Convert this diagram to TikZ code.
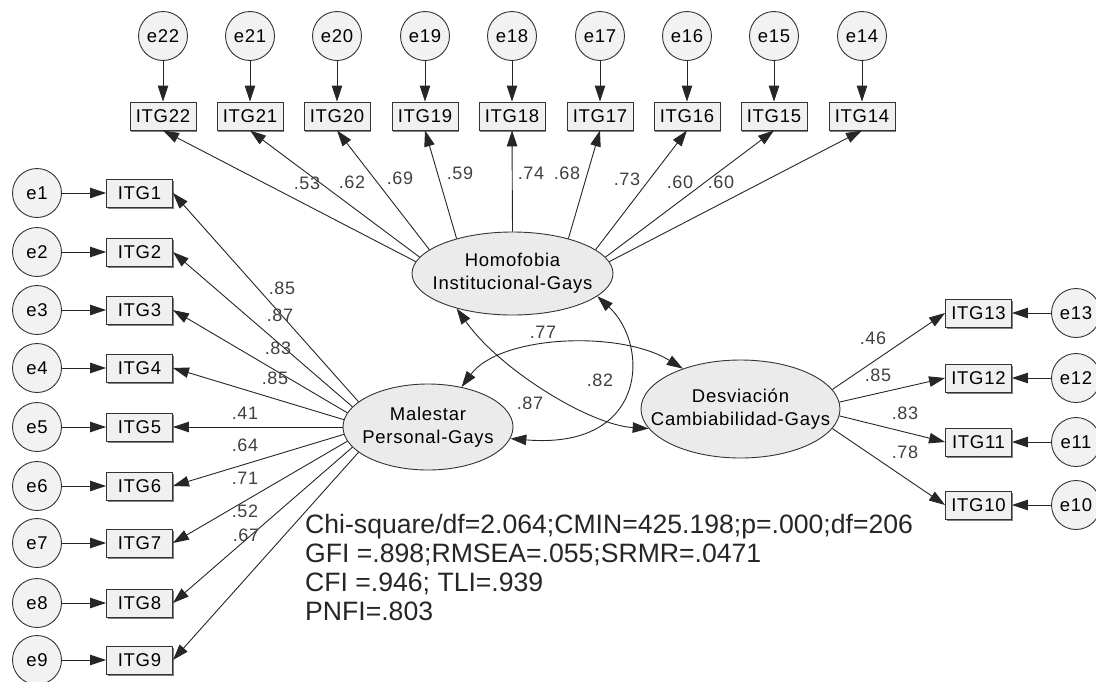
\documentclass[tikz,border=0pt]{standalone}
\usepackage{fontspec}
\setmainfont{Liberation Sans}
\newfontfamily\amos[LetterSpace=4]{Liberation Sans}
\usetikzlibrary{arrows.meta,shapes.geometric,shadows}
\begin{document}
\begin{tikzpicture}[x=1pt,y=-1pt,
  tip/.tip={Triangle[length=16pt,width=10.5pt]},
  obs/.style={draw=black!80, fill=black!6, rectangle, minimum width=66pt, minimum height=28pt, inner sep=0pt,
    font=\amos\fontsize{18.5}{20}\selectfont, line width=0.9pt,
    drop shadow={shadow xshift=1.2pt,shadow yshift=-1.6pt,fill=black!50,opacity=1}},
  err/.style={draw=black!80, fill=black!5, circle, minimum size=49pt, inner sep=0pt,
    font=\amos\fontsize{18.5}{20}\selectfont, line width=0.9pt},
  lat/.style={draw=black!80, fill=black!8, ellipse, inner xsep=-30pt, inner ysep=0pt, align=center,
    font=\amos\fontsize{18.5}{23}\selectfont, line width=0.9pt},
  arr/.style={-tip, line width=0.9pt, draw=black!85},
  dbl/.style={tip-tip, line width=0.9pt, draw=black!85},
  val/.style={font=\amos\fontsize{18}{20}\selectfont, text=black!75, inner sep=0pt}
]
\clip (0,0) rectangle (1096,681);
\fill[white] (0,0) rectangle (1096,681);

% latent variables
\node[lat, minimum width=201pt, minimum height=83pt] (H) at (512.5,273.5) {Homofobia\\Institucional-Gays};
\node[lat, minimum width=170pt, minimum height=86pt] (M) at (428,427) {Malestar\\Personal-Gays};
\node[lat, minimum width=199pt, minimum height=98pt] (D) at (740.5,409) {Desviación\\Cambiabilidad-Gays};

% top indicators
\foreach \n/\x in {22/163,21/250,20/337,19/425,18/512,17/600,16/687,15/774,14/862}{
  \node[err] (e\n) at (\x,36) {e\n};
  \node[obs] (ITG\n) at (\x,116) {ITG\n};
  \draw[arr] (e\n) -- (ITG\n);
}
% left indicators
\foreach \n/\y in {1/193,2/252,3/310,4/368,5/427,6/486,7/543,8/603,9/660}{
  \node[err] (e\n) at (37,\y) {e\n};
  \node[obs] (ITG\n) at (139.5,\y) {ITG\n};
  \draw[arr] (e\n) -- (ITG\n);
}
% right indicators
\foreach \n/\y in {13/313,12/378,11/442,10/505}{
  \node[err] (e\n) at (1076,\y) {e\n};
  \node[obs] (ITG\n) at (978.5,\y) {ITG\n};
  \draw[arr] (e\n) -- (ITG\n);
}

% loadings of Homofobia
\foreach \n/\a in {22/173,21/170,20/164,19/148,18/90,17/32,16/16,15/10,14/7}{
  \draw[arr] (H.\a) -- (ITG\n.south);
}
% loadings of Malestar
\foreach \n/\a in {1/160,2/165,3/170,4/175,5/180,6/185,7/190,8/195,9/200}{
  \draw[arr] (M.\a) -- (ITG\n.east);
}
% loadings of Desviacion
\foreach \n/\a in {13/12,12/4,11/-4,10/-12}{
  \draw[arr] (D.\a) -- (ITG\n.west);
}

% covariances
\draw[dbl] (M.50) .. controls (500,335) and (620,330) .. (D.145);
\draw[dbl] (H.-15) .. controls (650,345) and (648,450) .. (M.-8);
\draw[dbl] (H.212) .. controls (500,370) and (590,425) .. (D.192);

% loading values
\foreach \t/\x/\y in {.53/307/183,.62/352/182,.69/400/178,.59/460/173,.74/531/173,.68/567/173,.73/627/179,.60/680/182,.60/721/182,
  .85/282/288,.87/280/315,.83/278/348,.85/275/378,.41/245/413,.64/245/445,.71/245/478,.52/245/511,.67/246/535,
  .46/873/338,.85/878/375,.83/905/413,.78/905/452,
  .77/543/332,.82/600/380,.87/530/403}{
  \node[val] at (\x,\y) {\t};
}

% fit statistics
\node[anchor=north west, align=left, inner sep=0pt, text=black!85, font=\fontsize{26.6}{29}\selectfont] (fit) at (305,514)
  {Chi-square/df=2.064;CMIN=425.198;p=.000;df=206\\GFI =.898;RMSEA=.055;SRMR=.0471\\CFI =.946; TLI=.939\\PNFI=.803};
\end{tikzpicture}
\end{document}
